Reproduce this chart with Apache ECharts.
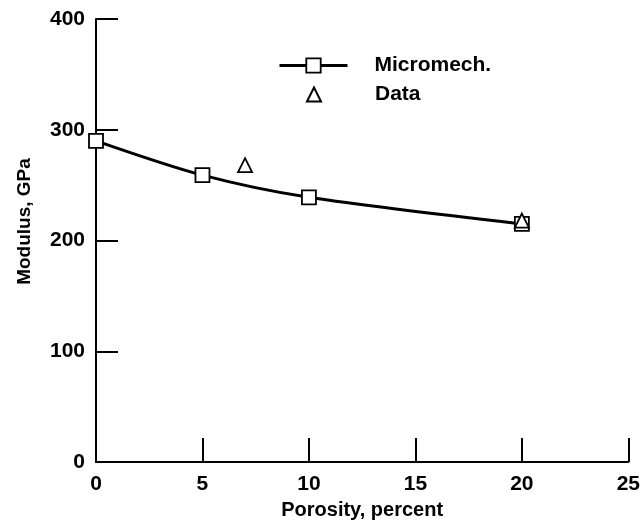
<!DOCTYPE html>
<html>
<head>
<meta charset="utf-8">
<script src="https://cdn.jsdelivr.net/npm/echarts@6/dist/echarts.min.js"></script>
<style>
  html, body { margin: 0; padding: 0; background: #fff; }
  #chart { width: 643px; height: 529px; }
</style>
</head>
<body>
<div id="chart"></div>
<script>
var porosity = [0, 5, 10, 20]; // 孔隙率, percent
var micromech = [290, 259, 239, 215]; // 模型计算值, GPa
var dataPorosity = [7, 20];
var dataModulus = [268, 218]; // 实测值

var xTicks = [0, 5, 10, 15, 20, 25];
var yTicks = [0, 100, 200, 300, 400];

var fontFamily = '"Liberation Sans", Arial, Helvetica, sans-serif';

var chart = echarts.init(document.getElementById('chart'));

var microPoints = [];
for (var i = 0; i < porosity.length; i++) {
  microPoints.push([porosity[i], micromech[i]]);
}
var dataPoints = [];
for (var j = 0; j < dataPorosity.length; j++) {
  dataPoints.push([dataPorosity[j], dataModulus[j]]);
}

var option = {
  backgroundColor: '#fff',
  animation: false,
  grid: { left: 96, right: 14, top: 19, bottom: 67 },
  legend: [{
    data: ['Micromech.'],
    left: 278, top: 55,
    padding: 0,
    itemWidth: 68, itemHeight: 18,
    selectedMode: false,
    lineStyle: { width: 3, color: '#000' },
    itemStyle: { color: '#fff', borderColor: '#000', borderWidth: 1.8 },
    textStyle: { fontSize: 21, fontWeight: 'bold', color: '#000', fontFamily: fontFamily, padding: [0, 0, 0, 22] }
  }, {
    data: ['Data'],
    left: 306, top: 84,
    padding: 0,
    itemWidth: 14, itemHeight: 14,
    selectedMode: false,
    textStyle: { fontSize: 21, fontWeight: 'bold', color: '#000', fontFamily: fontFamily, padding: [0, 0, 0, 49] }
  }],
  xAxis: {
    type: 'value',
    min: xTicks[0], max: xTicks[xTicks.length - 1], interval: 5,
    name: 'Porosity, percent',
    nameLocation: 'middle',
    nameGap: 38,
    nameTextStyle: { fontSize: 20, fontWeight: 'bold', color: '#000', fontFamily: fontFamily },
    axisLine: { lineStyle: { color: '#000', width: 2 } },
    axisTick: { inside: true, length: 24, lineStyle: { color: '#000', width: 2 } },
    axisLabel: { margin: 12, fontSize: 21, fontWeight: 'bold', color: '#000', fontFamily: fontFamily },
    splitLine: { show: false }
  },
  yAxis: {
    type: 'value',
    min: yTicks[0], max: yTicks[yTicks.length - 1], interval: 100,
    name: 'Modulus, GPa',
    nameLocation: 'middle',
    nameGap: 62,
    nameTextStyle: { fontSize: 19, fontWeight: 'bold', color: '#000', fontFamily: fontFamily, padding: [0, 0, 0, 38] },
    axisLine: { show: true, lineStyle: { color: '#000', width: 2 } },
    axisTick: { show: true, inside: true, length: 22, lineStyle: { color: '#000', width: 2 } },
    axisLabel: { margin: 11, fontSize: 21, fontWeight: 'bold', color: '#000', fontFamily: fontFamily },
    splitLine: { show: false }
  },
  series: [{
    name: 'Micromech.',
    type: 'line',
    data: microPoints,
    smooth: 0.3,
    symbol: 'rect',
    symbolSize: 14,
    lineStyle: { color: '#000', width: 3 },
    itemStyle: { color: '#fff', borderColor: '#000', borderWidth: 1.8 },
    z: 2
  }, {
    name: 'Data',
    type: 'scatter',
    data: dataPoints,
    symbol: 'triangle',
    symbolSize: 14,
    itemStyle: { color: '#fff', borderColor: '#000', borderWidth: 1.8, opacity: 1 },
    z: 3
  }]
};

chart.setOption(option);
</script>
</body>
</html>
